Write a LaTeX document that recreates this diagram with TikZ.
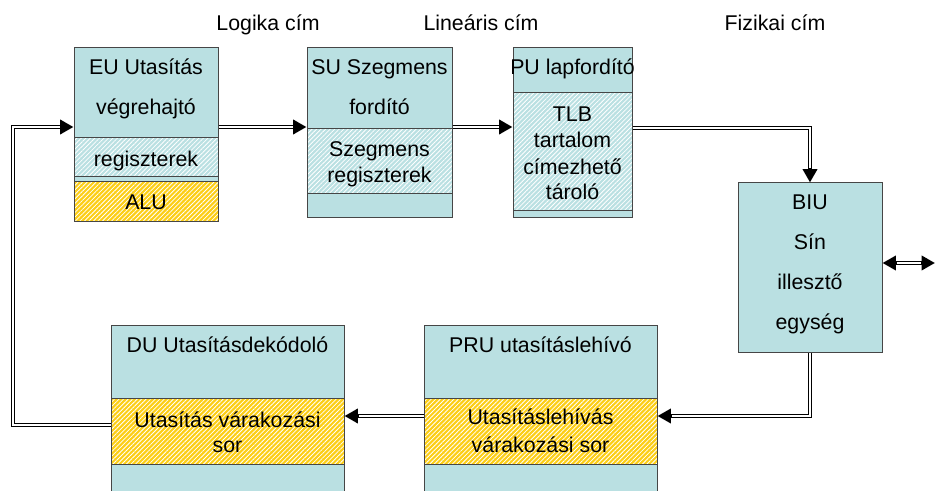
\documentclass[tikz,border=0pt]{standalone}
\usepackage{fontspec}
\setmainfont{Liberation Sans}
\usetikzlibrary{arrows.meta,patterns.meta,fit}

\definecolor{unitfill}{RGB}{186,224,226}
\definecolor{queuefill}{RGB}{252,206,22}
\definecolor{edgegray}{RGB}{70,70,70}

\tikzset{
  plainsec/.style={fill=unitfill},
  hatchsec/.style={preaction={fill=unitfill},
    pattern={Lines[angle=45,distance=2.4pt,line width=0.6pt]}, pattern color=white},
  queuesec/.style={preaction={fill=queuefill},
    pattern={Lines[angle=45,distance=2.4pt,line width=0.6pt]}, pattern color=white},
  divider/.style={draw=edgegray, line width=0.75pt},
  unit/.style={draw=edgegray, line width=0.75pt, inner sep=0pt},
  txt/.style={font=\fontsize{16}{19}\selectfont, anchor=base, inner sep=0pt},
  % outer black stroke of a double bus line, carrying a solid tip
  busouter/.style={draw=black, line width=3.1pt,
    -{Triangle[length=10pt,width=10.5pt,fill=black]}},
  busouterboth/.style={draw=black, line width=3.1pt,
    {Triangle[length=10pt,width=10.5pt,fill=black]}-{Triangle[length=10pt,width=10.5pt,fill=black]}},
  % white core laid over it, stopping where the tip starts
  businner/.style={draw=white, line width=1.5pt, -, shorten >=10.5pt},
  businnerboth/.style={draw=white, line width=1.5pt, -, shorten >=10.5pt, shorten <=10.5pt}
}
\newcommand\busarrow[1]{\draw[busouter] #1; \draw[businner] #1;}
\newcommand\busarrowboth[1]{\draw[busouterboth] #1; \draw[businnerboth] #1;}

\begin{document}
\begin{tikzpicture}[x=0.75pt,y=-0.75pt]
\clip (0,0) rectangle (935,491);
\fill[white] (0,0) rectangle (935,491);

% ---------- EU: execution unit ----------
\path[plainsec] (74,48) rectangle (218,138);
\path[hatchsec] (74,138) rectangle (218,177);
\path[plainsec] (74,177) rectangle (218,182);
\path[queuesec] (74,182) rectangle (218,222);
\draw[divider] (74,138) -- (218,138) (74,177) -- (218,177) (74,182) -- (218,182);
\node[unit, fit={(74,48) (218,222)}] (eu) {};

% ---------- SU: segment unit ----------
\path[plainsec] (307,48) rectangle (452,129);
\path[hatchsec] (307,129) rectangle (452,194);
\path[plainsec] (307,194) rectangle (452,218);
\draw[divider] (307,129) -- (452,129) (307,194) -- (452,194);
\node[unit, fit={(307,48) (452,218)}] (su) {};

% ---------- PU: paging unit ----------
\path[plainsec] (513,48) rectangle (632,93);
\path[hatchsec] (513,93) rectangle (632,211);
\path[plainsec] (513,211) rectangle (632,218);
\draw[divider] (513,93) -- (632,93) (513,211) -- (632,211);
\node[unit, fit={(513,48) (632,218)}] (pu) {};

% ---------- BIU: bus interface unit ----------
\path[plainsec] (738,183) rectangle (882,353);
\node[unit, fit={(738,183) (882,353)}] (biu) {};

% ---------- DU: decoder unit ----------
\path[plainsec] (111,326) rectangle (344,399);
\path[queuesec] (111,399) rectangle (344,464);
\path[plainsec] (111,464) rectangle (344,500);
\draw[divider] (111,399) -- (344,399) (111,464) -- (344,464);
\node[unit, fit={(111,326) (344,500)}] (du) {};

% ---------- PRU: prefetch unit ----------
\path[plainsec] (424,326) rectangle (657,399);
\path[queuesec] (424,399) rectangle (657,464);
\path[plainsec] (424,464) rectangle (657,500);
\draw[divider] (424,399) -- (657,399) (424,464) -- (657,464);
\node[unit, fit={(424,326) (657,500)}] (pru) {};

% ---------- texts ----------
\node[txt] (eu-t1) at (146,75) {EU Utasítás};
\node[txt] (eu-t2) at (146,115) {végrehajtó};
\node[txt] (eu-t3) at (146,167) {regiszterek};
\node[txt] (eu-t4) at (146,210) {ALU};

\node[txt] (su-t1) at (379.5,75) {SU Szegmens};
\node[txt] (su-t2) at (379.5,115) {fordító};
\node[txt] (su-t3) at (379.5,157) {Szegmens};
\node[txt] (su-t4) at (379.5,183) {regiszterek};

\node[txt] (pu-t1) at (572.5,75) {PU lapfordító};
\node[txt] (pu-t2) at (572.5,122) {TLB};
\node[txt] (pu-t3) at (572.5,148) {tartalom};
\node[txt] (pu-t4) at (572.5,175) {címezhető};
\node[txt] (pu-t5) at (572.5,200) {tároló};

\node[txt] (biu-t1) at (810,210) {BIU};
\node[txt] (biu-t2) at (810,250) {Sín};
\node[txt] (biu-t3) at (810,290) {illesztő};
\node[txt] (biu-t4) at (810,330) {egység};

\node[txt] (du-t1) at (227.5,353) {DU Utasításdekódoló};
\node[txt] (du-t2) at (227.5,427) {Utasítás várakozási};
\node[txt] (du-t3) at (227.5,452) {sor};

\node[txt] (pru-t1) at (540.5,353) {PRU utasításlehívó};
\node[txt] (pru-t2) at (540.5,425) {Utasításlehívás};
\node[txt] (pru-t3) at (540.5,452) {várakozási sor};

\node[txt] (lbl-log) at (268,31) {Logika cím};
\node[txt] (lbl-lin) at (481,31) {Lineáris cím};
\node[txt] (lbl-fiz) at (775,31) {Fizikai cím};

% ---------- connector levels ----------
\coordinate (lvlA) at (0,127);
\coordinate (lvlB) at (0,128);
\coordinate (lvlBus) at (0,263);
\coordinate (lvlQ) at (0,416);
\coordinate (lvlR) at (0,425);
\coordinate (loopB) at (13,425);
\coordinate (loopT) at (13,127);
\coordinate (busEnd) at (935,263);

% ---------- connectors ----------
\busarrow{(eu.east |- lvlA) -- (su.west |- lvlA)}
\busarrow{(su.east |- lvlA) -- (pu.west |- lvlA)}
\busarrow{(pu.east |- lvlB) -| (biu.north)}
\busarrowboth{(biu.east |- lvlBus) -- (busEnd)}
\busarrow{(biu.south) |- (pru.east |- lvlQ)}
\busarrow{(pru.west |- lvlQ) -- (du.east |- lvlQ)}
\busarrow{(du.west |- lvlR) -- (loopB) -- (loopT) -- (eu.west |- lvlA)}
\end{tikzpicture}
\end{document}
